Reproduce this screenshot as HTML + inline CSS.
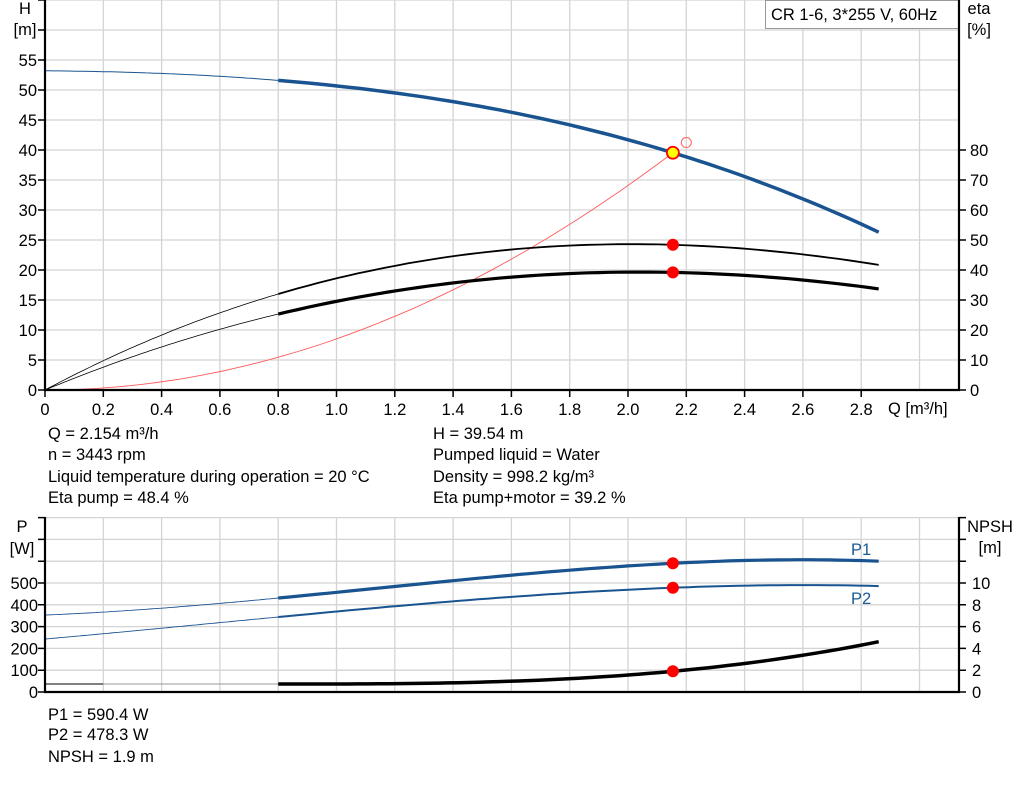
<!DOCTYPE html>
<html><head><meta charset="utf-8"><style>
body{margin:0;background:#fff;width:1024px;height:781px;overflow:hidden}
svg{font-family:"Liberation Sans",Arial,sans-serif}
</style></head><body>
<svg id="s" width="1024" height="781" xmlns="http://www.w3.org/2000/svg">
<g id="grid" stroke="#d4d4d4" stroke-width="1.3"></g>
<g font-size="16.5" fill="#000">
<text x="25" y="14" text-anchor="middle">H</text>
<text x="25" y="35" text-anchor="middle">[m]</text>
<text x="979" y="14" text-anchor="middle">eta</text>
<text x="979" y="35" text-anchor="middle">[%]</text>
<text x="888" y="414">Q [m³/h]</text>
<text x="22" y="532" text-anchor="middle">P</text>
<text x="22" y="554" text-anchor="middle">[W]</text>
<text x="990" y="532" text-anchor="middle">NPSH</text>
<text x="990" y="553" text-anchor="middle">[m]</text>
<text x="48" y="439">Q = 2.154 m³/h</text>
<text x="48" y="460">n = 3443 rpm</text>
<text x="48" y="482">Liquid temperature during operation = 20 °C</text>
<text x="48" y="503">Eta pump = 48.4 %</text>
<text x="433" y="439">H = 39.54 m</text>
<text x="433" y="460">Pumped liquid = Water</text>
<text x="433" y="482">Density = 998.2 kg/m³</text>
<text x="433" y="503">Eta pump+motor = 39.2 %</text>
<text x="48" y="720">P1 = 590.4 W</text>
<text x="48" y="740">P2 = 478.3 W</text>
<text x="48" y="762">NPSH = 1.9 m</text>
<text x="851" y="555" fill="#1d5b93">P1</text>
<text x="851" y="604" fill="#1d5b93">P2</text>
</g>
<g id="labels" font-size="16.5"></g>
<g id="curves" fill="none"></g>
<rect x="765.5" y="0.5" width="193" height="28" fill="#fff" stroke="#999"/>
<text x="771" y="20" font-size="16.5">CR 1-6, 3*255 V, 60Hz</text>
<g stroke="#000" stroke-width="2.2" fill="none">
<path d="M45,0 V391 M959,0 V391 M44,390 H960"/>
<path d="M45,517 V693 M959,517 V693 M44,692 H960"/>
</g>
<g id="marks"></g>
</svg>
<script>
const NS="http://www.w3.org/2000/svg";
function el(p,t,a,txt){const e=document.createElementNS(NS,t);for(const k in a)e.setAttribute(k,a[k]);if(txt!==undefined)e.textContent=txt;document.getElementById(p).appendChild(e);return e;}
const X=q=>45+q*291.5;
let d="";
for(let i=1;i<=15;i++){const x=X(i*0.2);d+=`M${x},0V390M${x},517V692`;}
for(let h=5;h<=65;h+=5){const y=390-h*6;if(y>=0)d+=`M45,${y}H959`;}
for(let p=100;p<=800;p+=100){const y=692-p*0.218;if(y>=517)d+=`M45,${y}H959`;}
el("grid","path",{d:d});
let t="";
for(let i=0;i<=14;i++){const x=X(i*0.2);t+=`M${x},390v7`;el("labels","text",{x:x,y:415,"text-anchor":"middle"},i==0?"0":(i*0.2).toFixed(1));}
for(let h=0;h<=55;h+=5){const y=390-h*6;t+=`M45,${y}h-7`;el("labels","text",{x:37,y:y+6,"text-anchor":"end"},h);}
for(let h=60;h<=65;h+=5){const y=390-h*6;if(y>=0)t+=`M45,${y}h-7`;}
for(let e=0;e<=80;e+=10){const y=390-e*3;t+=`M959,${y}h7`;el("labels","text",{x:970,y:y+6},e);}
for(let p=0;p<=800;p+=100){const y=692-p*0.218;if(y<517)continue;t+=`M45,${y}h-7`;if(p<=500)el("labels","text",{x:38,y:y+6,"text-anchor":"end"},p);}
for(let n=0;n<=16;n+=2){const y=692-n*10.9;if(y<517)continue;t+=`M959,${y}h7`;if(n>0&&n<=10)el("labels","text",{x:972,y:y+6},n);}
t+="M959,692h7";el("labels","text",{x:972,y:698},0);
el("labels","path",{d:t,stroke:"#000","stroke-width":"1.5"});
function lag(pts){return q=>{let s=0;for(let i=0;i<pts.length;i++){let l=1;for(let j=0;j<pts.length;j++)if(j!=i)l*=(q-pts[j][0])/(pts[i][0]-pts[j][0]);s+=l*pts[i][1];}return s;}}
function path(f,Y,a,b){let s="";for(let k=0;k<=60;k++){const q=a+(b-a)*k/60;s+=(k?"L":"M")+X(q).toFixed(1)+","+Y(f(q)).toFixed(1);}return s;}
function draw(f,Y,a,b,col,w){el("curves","path",{d:path(f,Y,a,b),stroke:col,"stroke-width":w});}
const YH=h=>390-h*6, YE=e=>390-e*3, YP=p=>692-p*0.218, YN=n=>692-n*10.9;
const blue="#1a5490";
const H=lag([[0,53.2],[0.8,51.6],[2.154,39.54],[2.86,26.3]]);
draw(H,YH,0,0.8,blue,1);draw(H,YH,0.8,2.86,blue,3.5);
const sys=q=>39.54*(q/2.154)**2;
draw(sys,YH,0,2.154,"#ff5a5a",0.9);
const E1=lag([[0,0],[0.8,32],[2.154,48.4],[2.86,41.7]]);
draw(E1,YE,0,0.8,"#000",0.8);draw(E1,YE,0.8,2.86,"#000",1.8);
const E2=lag([[0,0],[0.8,25.3],[2.154,39.2],[2.86,33.7]]);
draw(E2,YE,0,0.8,"#000",0.8);draw(E2,YE,0.8,2.86,"#000",3.2);
const P1=lag([[0,353],[0.8,431],[2.154,590.4],[2.86,600]]);
draw(P1,YP,0,0.8,blue,0.9);draw(P1,YP,0.8,2.86,blue,3.2);
const P2=lag([[0,243],[0.8,344],[2.154,478.3],[2.86,486]]);
draw(P2,YP,0,0.8,blue,0.9);draw(P2,YP,0.8,2.86,blue,2);
const N=q=>q<0.8?0.73:0.73+0.492*Math.pow(q-0.8,2.86);
draw(N,YN,0,0.2,"#000",1);draw(N,YN,0.2,0.8,"#999",1);draw(N,YN,0.8,2.86,"#000",3.5);
const mx=X(2.154);
el("marks","circle",{cx:X(2.2),cy:YH(sys(2.2)),r:5,fill:"none",stroke:"#ff6060","stroke-width":1});
for(const y of [YE(48.4),YE(39.2),YP(590.4),YP(478.3),YN(1.9)])el("marks","circle",{cx:mx,cy:y,r:6,fill:"#f00"});
el("marks","circle",{cx:mx,cy:YH(39.54),r:6,fill:"#ffff00",stroke:"#f00","stroke-width":1.8});
</script>
</body></html>
